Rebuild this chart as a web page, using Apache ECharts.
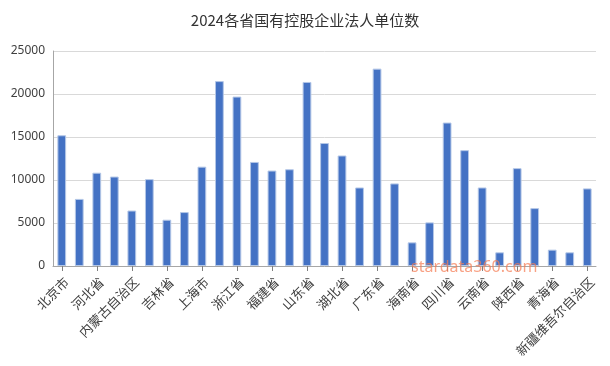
<!DOCTYPE html>
<html>
<head>
<meta charset="utf-8">
<script src="https://cdn.jsdelivr.net/npm/echarts@6/dist/echarts.min.js"></script>
<style>html,body{margin:0;padding:0;background:#fff;}#c{width:610px;height:366px;}</style>
</head>
<body>
<div id="c"></div>
<script>
const titleText = '2024各省国有控股企业法人单位数';
const categories = ['北京市','天津市','河北省','山西省','内蒙古自治区','辽宁省','吉林省','黑龙江省','上海市','江苏省','浙江省','安徽省','福建省','江西省','山东省','河南省','湖北省','湖南省','广东省','广西壮族自治区','海南省','重庆市','四川省','贵州省','云南省','西藏自治区','陕西省','甘肃省','青海省','宁夏回族自治区','新疆维吾尔自治区'];
const values = [15200,7800,10850,10400,6450,10100,5380,6270,11550,21500,19700,12100,11100,11250,21400,14300,12850,9130,22950,9600,2750,5070,16680,13470,9130,1590,11380,6730,1900,1590,9020];
const yTicks = {min:0, max:25000, interval:5000};

const chart = echarts.init(document.getElementById('c'));
chart.setOption({
  animation:false,
  title:{text:titleText,left:'center',top:8,textStyle:{fontSize:15,fontWeight:'normal',color:'#333',fontFamily:'Noto Sans CJK SC'}},
  grid:{left:53,right:14,top:51,bottom:100},
  xAxis:{type:'category',data:categories,
    axisLine:{lineStyle:{color:'#a6a6a6',width:1}},
    axisTick:{show:true,interval:1,alignWithLabel:true,length:5,lineStyle:{color:'#7f7f7f',width:1}},
    axisLabel:{interval:1,rotate:45,fontSize:13,color:'#404040',margin:9,verticalAlign:'top',fontFamily:'Noto Sans CJK SC'}},
  yAxis:{type:'value',min:yTicks.min,max:yTicks.max,interval:yTicks.interval,
    axisLine:{show:true,lineStyle:{color:'#a6a6a6'}},
    axisTick:{show:false},
    axisLabel:{fontSize:12,color:'#404040',margin:8,fontFamily:'Noto Sans',formatter:v=>String(v)},
    splitLine:{lineStyle:{color:'#d9d9d9'}}},
  series:[{type:'bar',data:values,barWidth:'50%',
    itemStyle:{color:'#4472c4',borderColor:'#b4c7e7',borderWidth:1}}],
  graphic:[{type:'text',left:411,top:259,z:100,style:{text:'stardata360.com',fontSize:16,fill:'rgba(245,125,85,0.72)',fontFamily:'Noto Sans'}}]
});
</script>
</body>
</html>
